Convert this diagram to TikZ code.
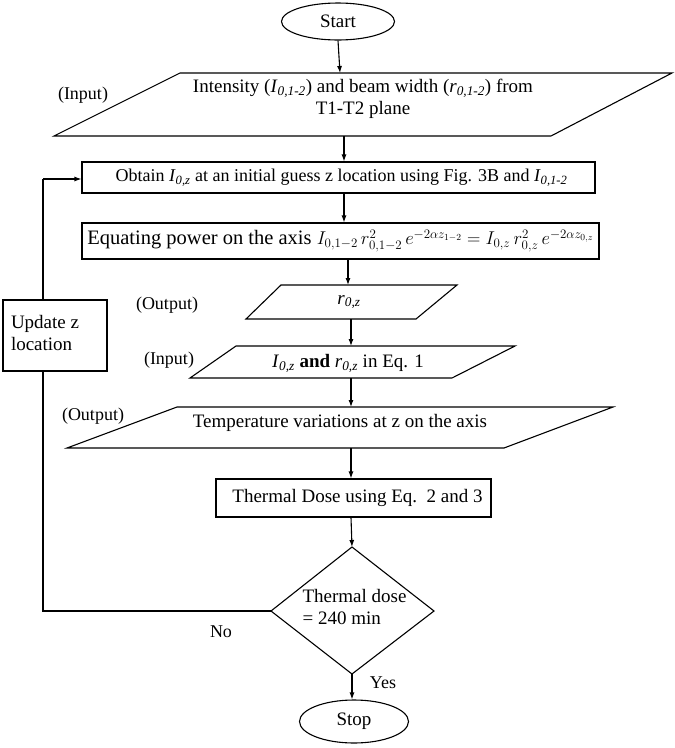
\RequirePackage{fix-cm}
\documentclass[tikz,border=0pt]{standalone}
\usepackage{fontspec}
\setmainfont{Liberation Serif}
\usetikzlibrary{arrows.meta,shapes.geometric}
\newcommand{\iv}[2]{\textit{#1}\textsubscript{\textit{#2}}}
\begin{document}
\begin{tikzpicture}[x=1pt,y=-1pt,line width=1.1pt,
  every node/.style={font=\fontsize{19}{22}\selectfont, inner sep=0pt},
  box/.style={draw, rectangle},
  term/.style={draw, ellipse},
  arr/.style={-{Latex[length=7pt,width=5pt]}},
  lbl/.style={font=\fontsize{18}{20}\selectfont}]
\useasboundingbox (0,0) rectangle (675,748);

% Start
\node[term, minimum width=113pt, minimum height=37pt] (start) at (338,21.5) {Start};

% Input parallelogram 1
\coordinate (p1a) at (180,73); \coordinate (p1b) at (672,73);
\coordinate (p1c) at (551,136); \coordinate (p1d) at (54,136);
\draw (p1a) -- (p1b) -- (p1c) -- (p1d) -- cycle;
\coordinate (p1top) at (340,73); \coordinate (p1bot) at (344,136);
\node[align=center] (intext) at (363,99) {Intensity (\iv{I}{0,1-2}) and beam width (\iv{r}{0,1-2}) from\\T1-T2 plane};
\node[lbl] (in1) at (83,95) {(Input)};

% Obtain
\node[box, minimum width=513pt, minimum height=31pt, font=\fontsize{18}{22}\selectfont] (obtain) at (338.5,177.5)
  {\hspace*{6pt}Obtain \iv{I}{0,z} at an initial guess z location using Fig. 3B and \iv{I}{0,1-2}};

% Equating
\node[box, minimum width=517pt, minimum height=36pt, font=\fontsize{20.5}{24}\selectfont] (equat) at (340.5,241)
  {Equating power on the axis {\fontsize{18.5}{22}\selectfont$I_{0,1-2}\,r^2_{0,1-2}\,e^{-2\alpha z_{1-2}} = I_{0,z}\,r^2_{0,z}\,e^{-2\alpha z_{0,z}}$}};

% r0z parallelogram
\coordinate (p2a) at (281,285); \coordinate (p2b) at (457,285);
\coordinate (p2c) at (416,319); \coordinate (p2d) at (246,319);
\draw (p2a) -- (p2b) -- (p2c) -- (p2d) -- cycle;
\coordinate (p2top) at (348,285); \coordinate (p2bot) at (351,319);
\node (r0z) at (349,302) {\iv{r}{0,z}};
\node[lbl] (out1) at (167,305) {(Output)};

% I0z input parallelogram
\coordinate (p3a) at (236,346); \coordinate (p3b) at (515,346);
\coordinate (p3c) at (452,378); \coordinate (p3d) at (190,378);
\draw (p3a) -- (p3b) -- (p3c) -- (p3d) -- cycle;
\coordinate (p3top) at (351,346); \coordinate (p3bot) at (351,378);
\node (i0z) at (348,363) {\iv{I}{0,z} \textbf{and} \iv{r}{0,z} in Eq. 1};
\node[lbl] (in2) at (169,360) {(Input)};

% Temperature parallelogram
\coordinate (p4a) at (177,407); \coordinate (p4b) at (613,407);
\coordinate (p4c) at (504,448); \coordinate (p4d) at (67,448);
\draw (p4a) -- (p4b) -- (p4c) -- (p4d) -- cycle;
\coordinate (p4top) at (351,407); \coordinate (p4bot) at (351,448);
\node (temp) at (340,423) {Temperature variations at z on the axis};
\node[lbl] (out2) at (93,416) {(Output)};

% Thermal dose box
\node[box, minimum width=275pt, minimum height=38pt] (tdose) at (353.5,498)
  {\hspace*{8pt}Thermal Dose using Eq.\ \ 2 and 3};

% Diamond
\coordinate (dt) at (352,547); \coordinate (dl) at (271,611);
\coordinate (dr) at (434,611); \coordinate (db) at (352,674);
\draw (dt) -- (dr) -- (db) -- (dl) -- cycle;
\node[align=left, anchor=west] (dtext) at (302,607) {Thermal dose\\= 240 min};

% Stop
\node[term, minimum width=109pt, minimum height=43pt] (stop) at (354,721.5) {Stop};

% Loop back
\coordinate (lb) at (43,611); \coordinate (lt) at (43,179);
\draw (dl) -- (lb) -- (lt);
\draw[arr] (lt) -- (obtain.west |- lt);
\node[box, fill=white, minimum width=104pt, minimum height=71pt] (update) at (55,335.5)
  {\makebox[88pt][l]{\raisebox{5pt}{\begin{tabular}{@{}l@{}}Update z\\location\end{tabular}}}};

\node[lbl] (no) at (221,632) {No};
\node[lbl] (yes) at (383,683) {Yes};

% Main arrows
\draw[arr] (start.south) -- (p1top);
\draw[arr] (p1bot) -- (p1bot |- obtain.north);
\draw[arr] (obtain.south -| p1bot) -- (equat.north -| p1bot);
\draw[arr] (equat.south -| p2top) -- (p2top);
\draw[arr] (p2bot) -- (p3top);
\draw[arr] (p3bot) -- (p4top);
\draw[arr] (p4bot) -- (tdose.north -| p4bot);
\draw[arr] (tdose.south -| p4bot) -- (dt);
\draw[arr] (db) -- (stop.north -| db);
\end{tikzpicture}
\end{document}
